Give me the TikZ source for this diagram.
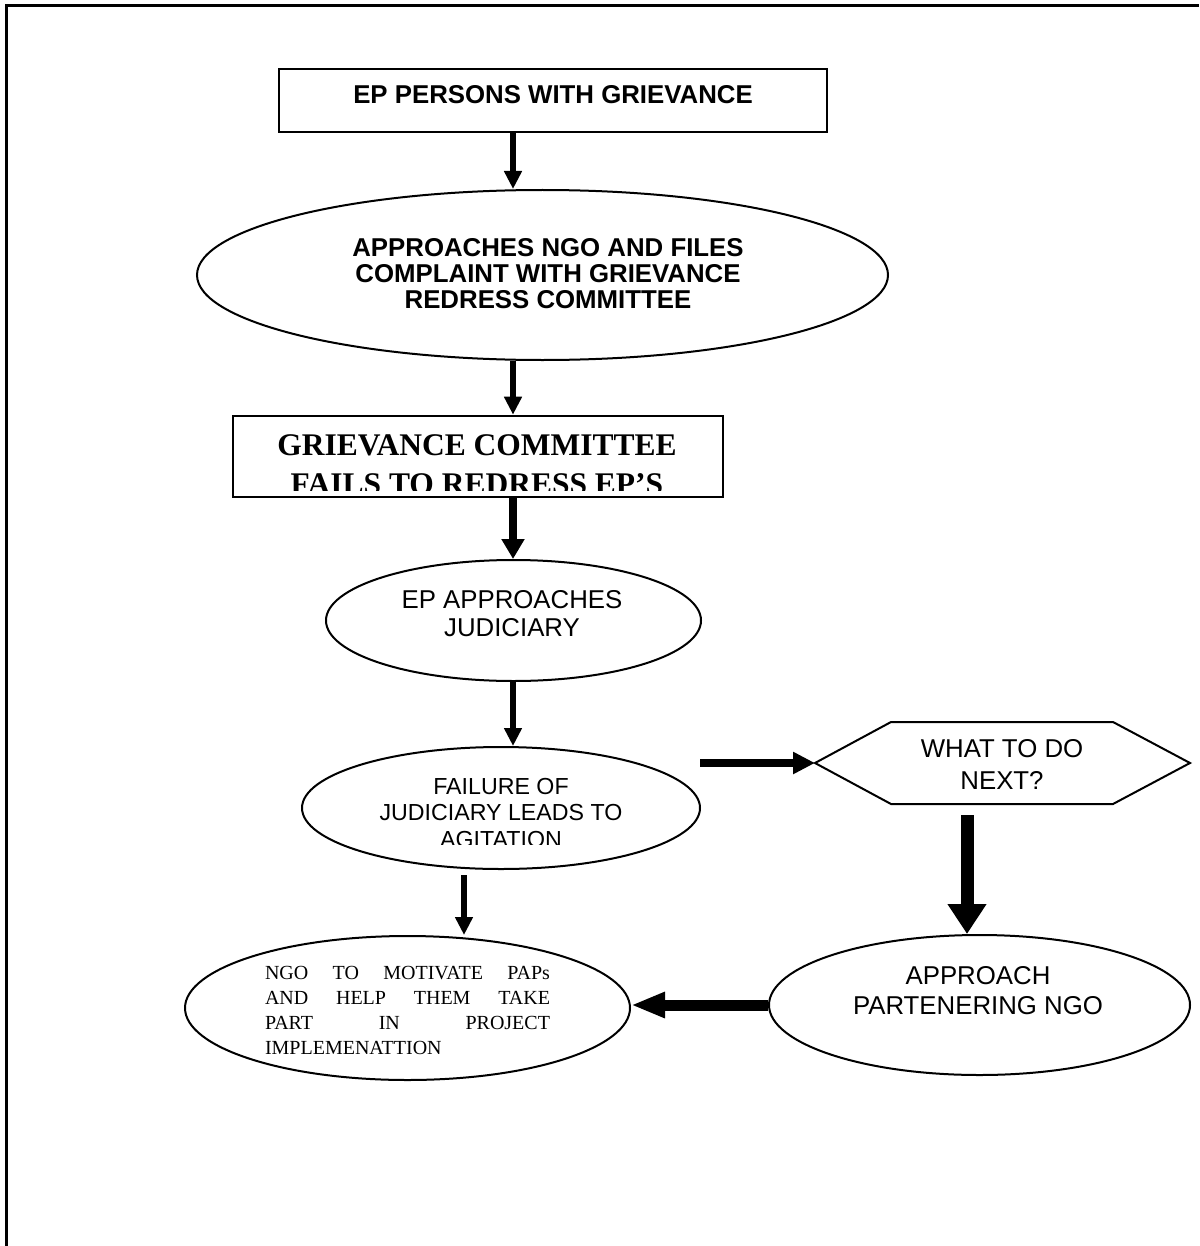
\documentclass[tikz,border=0pt]{standalone}
\usepackage{fontspec}
\setmainfont{Liberation Serif}
\setsansfont{Liberation Sans}
\usetikzlibrary{shapes.geometric,arrows.meta}
\begin{document}
\begin{tikzpicture}[x=0.5pt,y=-0.5pt,
  box/.style={draw,line width=1.3pt,rectangle,inner sep=0pt},
  oval/.style={draw,line width=1pt,ellipse,inner sep=0pt},
  hexa/.style={draw,line width=1pt,line join=miter},
  boldtxt/.style={font=\sffamily\bfseries\fontsize{12.9}{13}\selectfont,align=center,inner sep=0pt},
  plaintxt/.style={font=\sffamily\fontsize{12.9}{14}\selectfont,align=center,inner sep=0pt},
  thinarrow/.style={line width=2.8pt,-{Triangle[width=8.5pt,length=9pt]}},
  midarrow/.style={line width=4pt,-{Triangle[width=11pt,length=10pt]}},
  sidearrow/.style={line width=4pt,-{Triangle[width=10.5pt,length=11pt]}},
  heavyarrow/.style={line width=6.5pt,-{Triangle[width=18.5pt,length=15pt]}},
  backarrow/.style={line width=5.5pt,-{Triangle[width=12pt,length=17pt]}},
]
\useasboundingbox (0,0) rectangle (1199,1246);

% page frame, open at the right and at the bottom
\draw[line width=1.5pt] (6,1246) -- (6,6) -- (1199,6);

% column of the first vertical connectors
\coordinate (ax) at (513,0);

% boxes and ovals
\node[box,minimum width=274pt,minimum height=31.5pt] (b1) at (553,100.5) {};
\node[boldtxt] (t1) at (553,94.5) {EP PERSONS WITH GRIEVANCE};

\node[oval,minimum width=345.5pt,minimum height=85pt] (e2) at (542.5,275) {};
\node[boldtxt] (t2) at (548,274) {APPROACHES NGO AND FILES\\COMPLAINT WITH GRIEVANCE\\REDRESS COMMITTEE};

\node[box,minimum width=245pt,minimum height=40.5pt] (b3) at (478,456.5) {};
\begin{scope}
  \clip (233,416) rectangle (723,490);
  \node[font=\rmfamily\bfseries\fontsize{15.75}{19.5}\selectfont,align=center,inner sep=0pt] (t3) at (477,465)
    {GRIEVANCE COMMITTEE\\FAILS TO REDRESS EP’S};
\end{scope}

\node[oval,minimum width=187.5pt,minimum height=60.5pt] (e4) at (513.5,620.5) {};
\node[plaintxt] (t4) at (512,614) {EP APPROACHES\\JUDICIARY};

\node[oval,minimum width=199pt,minimum height=61pt] (e5) at (501,808) {};
\begin{scope}
  \clip (302,747) rectangle (700,844);
  \node[font=\sffamily\fontsize{11.6}{13.25}\selectfont,align=center,inner sep=0pt] (t5) at (501,813)
    {FAILURE OF\\JUDICIARY LEADS TO\\AGITATION};
\end{scope}

% decision hexagon
\draw[hexa] (815,763) -- (891,722) -- (1113,722) -- (1190,763) -- (1113,804) -- (891,804) -- cycle;
\coordinate (h6w) at (815,763);
\coordinate (h6s) at (967,804);
\node[plaintxt,font=\sffamily\fontsize{12.9}{16}\selectfont] (t6) at (1002,764) {WHAT TO DO\\NEXT?};

\node[oval,minimum width=210.5pt,minimum height=70pt] (e7) at (979.5,1005) {};
\node[plaintxt,font=\sffamily\fontsize{12.9}{15}\selectfont] (t7) at (978,991) {APPROACH\\PARTENERING NGO};

\node[oval,minimum width=222.5pt,minimum height=72pt] (e8) at (407.5,1008) {};
\node[inner sep=0pt] (t8) at (407.5,1010) {\parbox{142.5pt}{\rmfamily\fontsize{10}{12.5}\selectfont
  \hbox to 142.5pt{NGO\hfil TO\hfil MOTIVATE\hfil PAPs}
  \hbox to 142.5pt{AND\hfil HELP\hfil THEM\hfil TAKE}
  \hbox to 142.5pt{PART\hfil IN\hfil PROJECT}
  \hbox{IMPLEMENATTION}}};

% free ends of the connectors that do not leave a shape
\coordinate (a5s) at (700,763);
\coordinate (a6s) at (967,815);
\coordinate (a8s) at (464,875);

% connectors
\draw[thinarrow] (b1.south -| ax) -- (e2.north -| ax);
\draw[thinarrow] (e2.south -| ax) -- (b3.north -| ax);
\draw[midarrow] (b3.south -| ax) -- (e4.north -| ax);
\draw[thinarrow] (e4.south -| ax) -- (e5.north -| ax);
\draw[sidearrow] (a5s) -- (h6w);
\draw[heavyarrow] (a6s) -- (e7.north -| a6s);
\draw[backarrow] (e7.west) -- (e7.west -| e8.east);
\draw[thinarrow] (a8s) -- (e8.north -| a8s);
\end{tikzpicture}
\end{document}
